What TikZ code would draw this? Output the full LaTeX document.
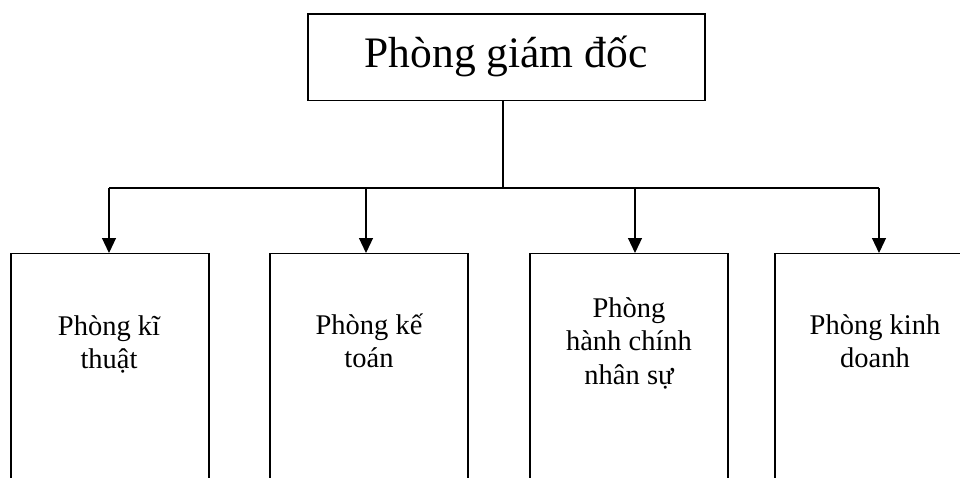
\documentclass[tikz,border=0pt]{standalone}
\usepackage{fontspec}
\setmainfont{Liberation Serif}
\usetikzlibrary{arrows.meta}
\begin{document}
\begin{tikzpicture}[x=1pt,y=-1pt,
  frame/.style={draw, line width=1.2pt, rectangle, inner sep=0pt},
  link/.style={line width=1.2pt},
  feed/.style={line width=1.2pt, -{Triangle[width=14pt,length=15pt]}},
  title/.style={font=\fontsize{43.5}{51}\selectfont, anchor=base, inner sep=0pt},
  dept/.style={font=\fontsize{28.5}{33.5}\selectfont, align=center, anchor=north, inner sep=0pt}]
\useasboundingbox (0,0) rectangle (960,477);
\clip (0,0) rectangle (960,477);

% director's office
\node[frame, minimum width=397pt, minimum height=86.5pt] (boss) at (506.5,57.25) {};
\node[title] (bosstext) at (506,67) {Phòng giám đốc};

% departments (boxes run past the lower edge)
\node[frame, minimum width=198pt, minimum height=300pt, anchor=north] (d1) at (110,253) {};
\node[frame, minimum width=198pt, minimum height=300pt, anchor=north] (d2) at (369,253) {};
\node[frame, minimum width=198pt, minimum height=300pt, anchor=north] (d3) at (629,253) {};
\node[frame, minimum width=198pt, minimum height=300pt, anchor=north] (d4) at (874,253) {};

\node[dept] (t1) at (109,309) {\rule{0pt}{26pt}Phòng kĩ\\thuật};
\node[dept] (t2) at (369,308) {\rule{0pt}{26pt}Phòng kế\\toán};
\node[dept] (t3) at (629,291) {\rule{0pt}{26pt}Phòng\\hành chính\\nhân sự};
\node[dept] (t4) at (875,308) {\rule{0pt}{26pt}Phòng kinh\\doanh};

% connector points
\coordinate (bus) at (503,188);
\coordinate (in1) at (109,253);
\coordinate (in2) at (366,253);
\coordinate (in3) at (635,253);
\coordinate (in4) at (879,253);

\draw[link] (bus |- boss.south) -- (bus);
\draw[link] (in1 |- bus) -- (in4 |- bus);
\draw[feed] (in1 |- bus) -- (in1);
\draw[feed] (in2 |- bus) -- (in2);
\draw[feed] (in3 |- bus) -- (in3);
\draw[feed] (in4 |- bus) -- (in4);
\end{tikzpicture}
\end{document}
